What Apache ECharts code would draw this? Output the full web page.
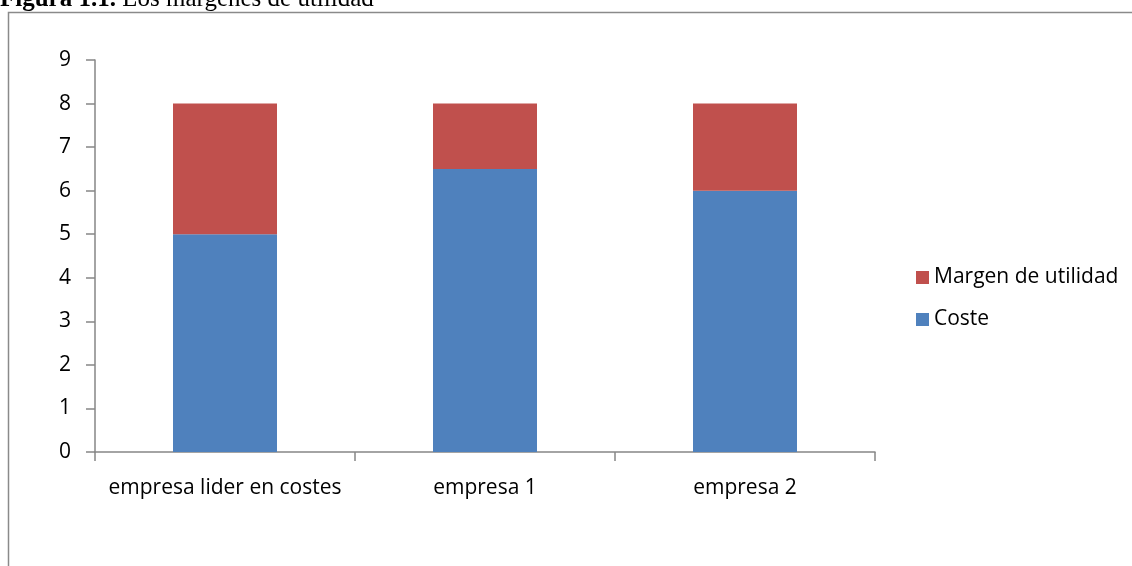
<!DOCTYPE html>
<html>
<head>
<meta charset="utf-8">
<script src="https://cdn.jsdelivr.net/npm/echarts@6/dist/echarts.min.js"></script>
<style>
  html, body { margin: 0; padding: 0; background: #fff; }
  #chart { width: 1132px; height: 566px; }
</style>
</head>
<body>
<div id="chart"></div>
<script>
var categories = ['empresa lider en costes', 'empresa 1', 'empresa 2'];
var coste = [5, 6.5, 6];
var margen = [3, 1.5, 2];
var yTicks = { min: 0, max: 9, interval: 1 };

var chart = echarts.init(document.getElementById('chart'));
var font = '"Open Sans", "Noto Sans", sans-serif';

chart.setOption({
  animation: false,
  backgroundColor: '#fff',
  graphic: [
    {
      type: 'rect',
      shape: { x: 8.5, y: 12.5, width: 1200, height: 600 },
      style: { fill: 'none', stroke: '#8a8a8a', lineWidth: 1.5 }
    },
    {
      type: 'text',
      left: 0,
      top: -13,
      style: {
        text: '{b|Figura 1.1.} Los márgenes de utilidad',
        font: '25px "Liberation Serif", serif',
        fill: '#000',
        rich: {
          b: { fontWeight: 'bold', fontSize: 25, fontFamily: '"Liberation Serif", serif' }
        }
      }
    }
  ],
  legend: {
    orient: 'vertical',
    left: 911,
    top: 262,
    itemWidth: 13,
    itemHeight: 13,
    itemGap: 21,
    icon: 'rect',
    data: ['Margen de utilidad', 'Coste'],
    textStyle: { fontFamily: font, fontSize: 21, color: '#000' }
  },
  grid: { left: 95, right: 257, top: 60, bottom: 114 },
  xAxis: {
    type: 'category',
    data: categories,
    axisLine: { lineStyle: { color: '#868686', width: 1.5 } },
    axisTick: { show: true, interval: 0, length: 9, alignWithLabel: false, lineStyle: { color: '#868686', width: 1.5 } },
    axisLabel: { interval: 0, margin: 26, color: '#000', fontFamily: font, fontSize: 21 }
  },
  yAxis: {
    type: 'value',
    min: yTicks.min,
    max: yTicks.max,
    interval: yTicks.interval,
    axisLine: { show: true, lineStyle: { color: '#868686', width: 1.5 } },
    axisTick: { show: true, length: 9, lineStyle: { color: '#868686', width: 1.5 } },
    axisLabel: { margin: 24, color: '#000', fontFamily: font, fontSize: 21 },
    splitLine: { show: false }
  },
  series: [
    {
      name: 'Coste',
      type: 'bar',
      stack: 'total',
      barWidth: '40%',
      itemStyle: { color: '#4F81BD' },
      data: coste
    },
    {
      name: 'Margen de utilidad',
      type: 'bar',
      stack: 'total',
      barWidth: '40%',
      itemStyle: { color: '#C0504D' },
      data: margen
    }
  ]
});
</script>
</body>
</html>
